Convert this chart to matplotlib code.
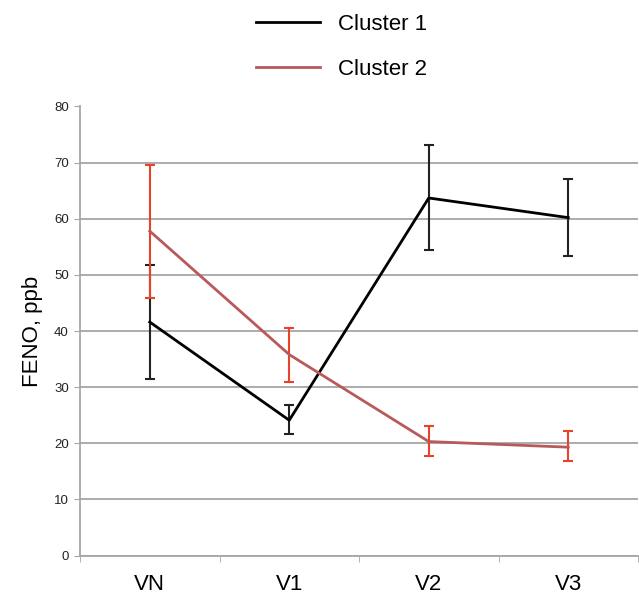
import numpy as np
import matplotlib.pyplot as plt

plt.rcParams['font.family'] = ['Liberation Sans', 'DejaVu Sans']

visits = ["VN", "V1", "V2", "V3"]

# cluster 1: mean with lower/upper error bar ends
c1_mean = [41.6, 24.1, 63.7, 60.2]
c1_low = [31.5, 21.7, 54.5, 53.3]
c1_high = [51.8, 26.9, 73.2, 67.0]

# cluster 2
c2_mean = [57.8, 35.8, 20.3, 19.3]
c2_low = [45.9, 31.0, 17.8, 16.8]
c2_high = [69.6, 40.6, 23.1, 22.1]

fig = plt.figure(figsize=(6.39, 5.95), dpi=100)
ax = fig.add_axes([80/639, 39.5/595, 558/639, 449/595])

x = np.arange(len(visits))
m1 = np.array(c1_mean)
m2 = np.array(c2_mean)
err1 = [m1 - np.array(c1_low), np.array(c1_high) - m1]
err2 = [m2 - np.array(c2_low), np.array(c2_high) - m2]

ax.plot(x, m1, color="black", lw=2, label="Cluster 1", zorder=4)
ax.errorbar(x, m1, yerr=err1, fmt="none", ecolor="#222222", elinewidth=1.5,
            capsize=3.5, capthick=1.5, zorder=3)
ax.plot(x, m2, color="#b9595a", lw=2, label="Cluster 2", zorder=4)
ax.errorbar(x, m2, yerr=err2, fmt="none", ecolor="#e8432a", elinewidth=1.5,
            capsize=3.5, capthick=1.5, zorder=3)

ax.set_xlim(-0.5, 3.5)
ax.set_ylim(0, 80)
ax.set_yticks(np.arange(0, 81, 10))
ax.yaxis.grid(True, color="#a6a6a6", lw=1.3)
ax.set_axisbelow(True)

ax.set_xticks(x)
ax.set_xticklabels(visits, fontsize=16)
ax.set_xticks(np.arange(-0.5, 4, 1), minor=True)
ax.tick_params(axis="x", which="major", length=0, pad=13)
ax.tick_params(axis="x", which="minor", length=4, color="#a6a6a6")
ax.tick_params(axis="y", length=4, color="#a6a6a6", labelsize=9.5,
               labelcolor="#222222", pad=4)

for s in ["top", "right"]:
    ax.spines[s].set_visible(False)
for s in ["left", "bottom"]:
    ax.spines[s].set_color("#a6a6a6")
    ax.spines[s].set_linewidth(1.3)

ax.set_ylabel("FENO, ppb", fontsize=16, labelpad=8)

fig.legend(loc="upper left", bbox_to_anchor=(236/639, 1.01), frameon=False,
           fontsize=16, handlelength=2.9, labelspacing=1.08, handletextpad=0.8)

fig.savefig("out.png", dpi=100)
